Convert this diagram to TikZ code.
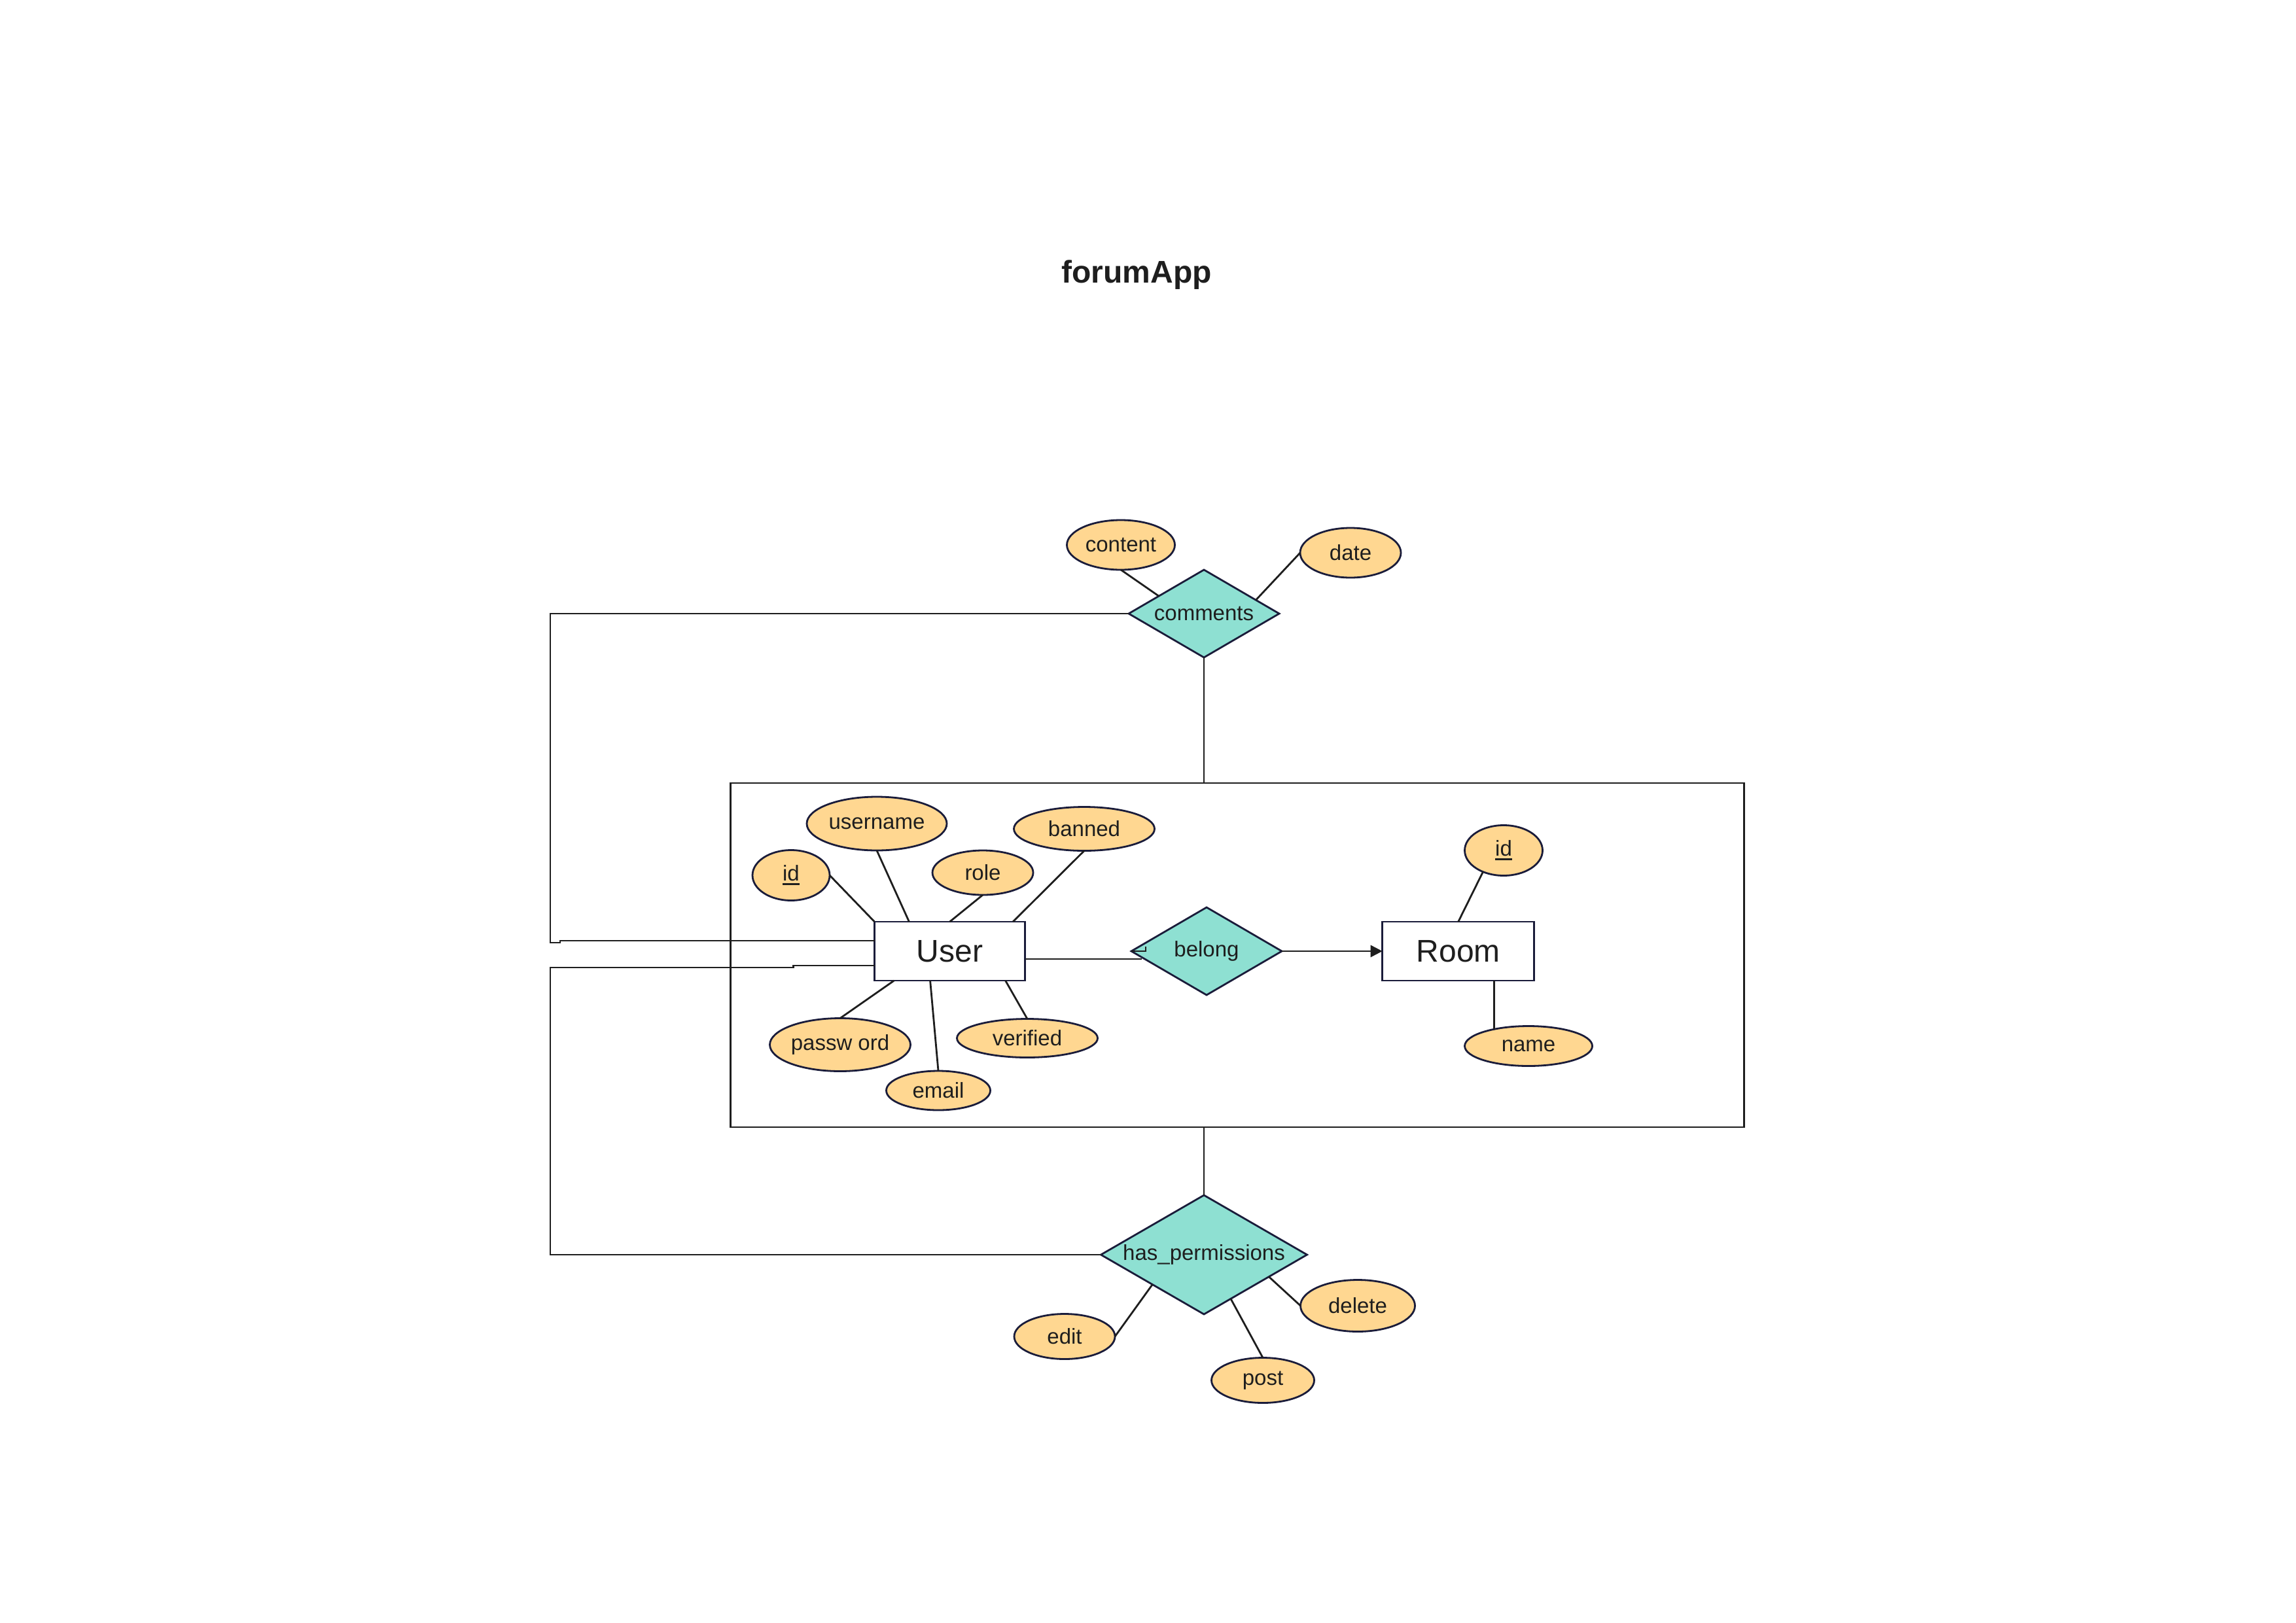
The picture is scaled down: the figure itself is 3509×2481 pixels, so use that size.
\documentclass[tikz,border=0pt]{standalone}
\usepackage{fontspec}
\setmainfont{Liberation Sans}
\usetikzlibrary{shapes.geometric,arrows.meta,calc}
\definecolor{attrfill}{HTML}{FFD791}
\definecolor{relfill}{HTML}{8EE0D2}
\definecolor{navy}{HTML}{1A1C3A}
\definecolor{ink}{HTML}{1E1E1E}
\newcommand\myul[1]{\setbox0\hbox{#1}\rlap{\rule[-6pt]{\wd0}{2.7pt}}#1}
\begin{document}
\begin{tikzpicture}[x=1pt,y=-1pt,
  every node/.style={inner sep=0pt, outer sep=0pt, text=ink},
  attr/.style={ellipse, draw=navy, fill=attrfill, line width=2.8pt, font=\fontsize{33}{40}\selectfont},
  rel/.style={diamond, draw=navy, fill=relfill, line width=2.8pt, font=\fontsize{33}{40}\selectfont},
  entity/.style={rectangle, draw=navy, fill=white, line width=2.8pt, minimum width=230pt, minimum height=90pt, font=\fontsize{48}{56}\selectfont},
  conn/.style={draw=ink, line width=2.8pt},
]
\path[use as bounding box, fill=white] (0,0) rectangle (3509,2481);

\node[font=\bfseries\fontsize{48}{56}\selectfont, anchor=base] (title) at (1737,432) {forumApp};

\node[rel, aspect=1.72, minimum width=230pt, minimum height=134pt] (comments) at (1840,938) {comments};
\node[attr, minimum width=165pt, minimum height=76pt] (content) at (1713,833) {content};
\node[attr, minimum width=154pt, minimum height=76pt] (date) at (2064,845) {date};

\node[draw=ink, line width=2.8pt, minimum width=1549pt, minimum height=526pt] (agg) at (1891,1460) {};

\node[entity] (user) at (1451.5,1454) {User};
\node[entity, minimum width=232pt] (room) at (2228.7,1454) {Room};
\node[rel, aspect=1.72, minimum width=230pt, minimum height=134pt] (belong) at (1844,1454) {belong};

\node[attr, minimum width=118pt, minimum height=77pt] (uid) at (1209,1338) {\myul{id}};
\node[attr, minimum width=214pt, minimum height=82pt] (username) at (1340,1259) {username};
\node[attr, minimum width=154pt, minimum height=68pt] (role) at (1502,1334) {role};
\node[attr, minimum width=215pt, minimum height=67pt] (banned) at (1657,1267) {banned};
\node[attr, minimum width=215pt, minimum height=81pt] (password) at (1284,1597) {passw ord};
\node[attr, minimum width=159pt, minimum height=60pt] (email) at (1434,1667) {email};
\node[attr, minimum width=215pt, minimum height=59pt] (verified) at (1570,1587) {verified};

\node[attr, minimum width=119pt, minimum height=77pt] (rid) at (2298,1300) {\myul{id}};
\node[attr, minimum width=195pt, minimum height=61pt] (rname) at (2336,1599) {name};

\node[rel, aspect=1.73, minimum width=315pt, minimum height=182pt] (hp) at (1840,1918) {has\_permissions};
\node[attr, minimum width=154pt, minimum height=69pt] (edit) at (1627,2043) {edit};
\node[attr, minimum width=157pt, minimum height=69pt] (post) at (1930,2110) {post};
\node[attr, minimum width=175pt, minimum height=79pt] (delete) at (2075,1996) {delete};

% comments
\draw[conn] (content.south) -- ($(comments.west)!0.4!(comments.north)$);
\draw[conn] (date.west) -- ($(comments.north)!0.69!(comments.east)$);
\draw[conn] (comments.south) -- (agg.north -| comments.south);
\draw[conn] (agg.south -| hp.north) -- (hp.north);

% left routes
\coordinate (k1) at (841,1441);
\coordinate (k2) at (856,1441);
\coordinate (k3) at (856,1438);
\draw[conn] (comments.west) -| (k1) -- (k2) -- (k3) -- (k3 -| user.west);
\coordinate (m1) at (1212.5,1476);
\coordinate (m2) at (1212.5,1479);
\coordinate (m3) at (841,1479);
\draw[conn] (m1 -| user.west) -- (m1) -- (m2) -- (m3) |- (hp.west);

% user attributes
\draw[conn] (uid.east) -- (user.north west);
\draw[conn] (username.south) -- ($(user.north west)!0.23!(user.north east)$);
\draw[conn] (role.south) -- (user.north);
\draw[conn] (banned.south) -- ($(user.north west)!0.92!(user.north east)$);
\draw[conn] (password.north) -- ($(user.south west)!0.13!(user.south east)$);
\draw[conn] (email.north) -- ($(user.south west)!0.37!(user.south east)$);
\draw[conn] (verified.north) -- ($(user.south west)!0.87!(user.south east)$);

% room attributes
\draw[conn] (rid.226) -- (room.north);
\draw[conn] (room.south -| rname.154) -- (rname.154);

% permissions
\draw[conn] (edit.east) -- ($(hp.west)!0.5!(hp.south)$);
\draw[conn] (post.north) -- ($(hp.south)!0.26!(hp.east)$);
\draw[conn] (delete.west) -- ($(hp.south)!0.63!(hp.east)$);

% belong
\draw[conn] ($(user.east)+(0,12)$) -- ($(belong.west)+(16,12)$);
\draw[conn] (belong.west) -- ++(22,0) -- ++(0,-7);
\draw[conn, -{Triangle[length=18pt,width=18pt]}] (belong.east) -- (room.west);
\end{tikzpicture}
\end{document}
